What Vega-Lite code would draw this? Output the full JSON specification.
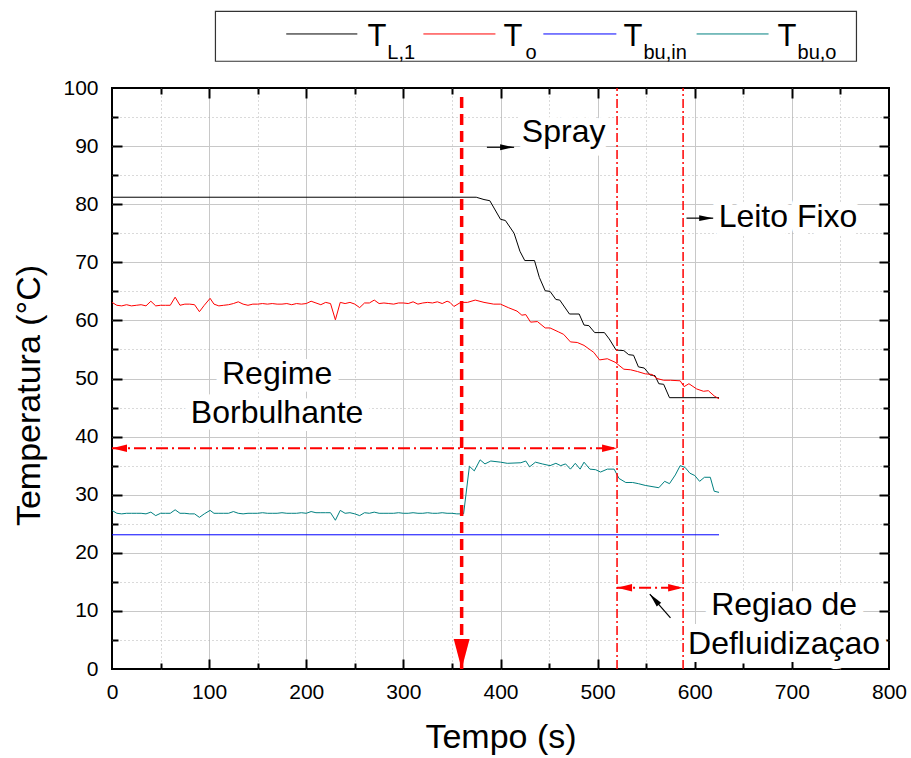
{
  "$schema": "https://vega.github.io/schema/vega-lite/v6.json",
  "width": 777,
  "height": 581,
  "autosize": {"type": "none"},
  "padding": {"left": 112, "top": 88, "right": 22, "bottom": 89},
  "background": "white",
  "config": {
    "font": "Liberation Sans",
    "view": {"stroke": "#000000", "strokeWidth": 2},
    "axis": {
      "domain": false,
      "labelColor": "#000000",
      "tickColor": "#000000",
      "tickWidth": 2,
      "labelFontSize": 21,
      "titleFontSize": 34,
      "titleFontWeight": "normal",
      "titleColor": "#000000",
      "gridColor": "#c8c8c8",
      "gridWidth": 1,
      "labelOverlap": false,
      "labelFlush": false
    }
  },
  "datasets": {
    "TL1": [
      {"t": 0, "v": 81.2}, {"t": 375, "v": 81.2}, {"t": 383, "v": 80.8}, {"t": 389, "v": 80.6},
      {"t": 400, "v": 77.4}, {"t": 405, "v": 77.2}, {"t": 414, "v": 75.0}, {"t": 420, "v": 71.9},
      {"t": 425, "v": 70.3}, {"t": 435, "v": 70.3}, {"t": 440, "v": 67.4}, {"t": 446, "v": 65.1},
      {"t": 451, "v": 65.0}, {"t": 457, "v": 63.6}, {"t": 461, "v": 63.5}, {"t": 471, "v": 61.1},
      {"t": 481, "v": 61.1}, {"t": 486, "v": 59.2}, {"t": 491, "v": 59.1}, {"t": 497, "v": 57.9},
      {"t": 507, "v": 57.9}, {"t": 512, "v": 56.8}, {"t": 519, "v": 54.9}, {"t": 527, "v": 54.8},
      {"t": 532, "v": 54.1}, {"t": 537, "v": 54.0}, {"t": 542, "v": 52.0}, {"t": 548, "v": 51.8},
      {"t": 554, "v": 50.6}, {"t": 559, "v": 50.5}, {"t": 563, "v": 49.1}, {"t": 568, "v": 49.0},
      {"t": 574, "v": 46.7}, {"t": 625, "v": 46.7}
    ],
    "To": [
      {"t": 0, "v": 63.1}, {"t": 5, "v": 62.6}, {"t": 10, "v": 62.5}, {"t": 15, "v": 62.7},
      {"t": 20, "v": 62.5}, {"t": 25, "v": 62.6}, {"t": 30, "v": 62.7}, {"t": 35, "v": 62.5},
      {"t": 40, "v": 63.3}, {"t": 45, "v": 62.5}, {"t": 50, "v": 62.6}, {"t": 55, "v": 62.6},
      {"t": 60, "v": 62.6}, {"t": 65, "v": 64.0}, {"t": 70, "v": 62.6}, {"t": 75, "v": 62.8},
      {"t": 80, "v": 62.8}, {"t": 85, "v": 62.7}, {"t": 90, "v": 61.5}, {"t": 95, "v": 62.6},
      {"t": 101, "v": 63.8}, {"t": 105, "v": 62.8}, {"t": 110, "v": 62.5}, {"t": 115, "v": 62.6},
      {"t": 120, "v": 62.7}, {"t": 125, "v": 62.9}, {"t": 130, "v": 63.2}, {"t": 135, "v": 62.8},
      {"t": 140, "v": 62.6}, {"t": 145, "v": 62.8}, {"t": 150, "v": 62.8}, {"t": 155, "v": 62.9},
      {"t": 160, "v": 62.8}, {"t": 165, "v": 62.9}, {"t": 170, "v": 62.8}, {"t": 175, "v": 62.8},
      {"t": 180, "v": 62.9}, {"t": 185, "v": 62.7}, {"t": 190, "v": 62.9}, {"t": 195, "v": 62.8},
      {"t": 200, "v": 62.9}, {"t": 205, "v": 63.3}, {"t": 210, "v": 63.0}, {"t": 215, "v": 62.7},
      {"t": 220, "v": 63.1}, {"t": 225, "v": 62.9}, {"t": 230, "v": 60.1}, {"t": 235, "v": 63.1},
      {"t": 240, "v": 62.9}, {"t": 245, "v": 63.1}, {"t": 250, "v": 62.8}, {"t": 255, "v": 62.2},
      {"t": 260, "v": 63.0}, {"t": 265, "v": 63.0}, {"t": 270, "v": 63.5}, {"t": 275, "v": 62.9},
      {"t": 280, "v": 63.0}, {"t": 285, "v": 62.9}, {"t": 290, "v": 62.8}, {"t": 295, "v": 63.0},
      {"t": 300, "v": 63.0}, {"t": 305, "v": 62.9}, {"t": 310, "v": 63.2}, {"t": 315, "v": 62.8},
      {"t": 320, "v": 63.0}, {"t": 325, "v": 63.1}, {"t": 330, "v": 63.0}, {"t": 335, "v": 63.2},
      {"t": 340, "v": 62.9}, {"t": 345, "v": 63.3}, {"t": 348, "v": 63.1}, {"t": 352, "v": 62.4},
      {"t": 359, "v": 63.1}, {"t": 366, "v": 63.1}, {"t": 374, "v": 63.5}, {"t": 383, "v": 63.1},
      {"t": 393, "v": 62.8}, {"t": 400, "v": 62.8}, {"t": 408, "v": 62.2}, {"t": 417, "v": 61.6},
      {"t": 422, "v": 60.9}, {"t": 426, "v": 61.0}, {"t": 431, "v": 59.7}, {"t": 438, "v": 59.8},
      {"t": 446, "v": 58.7}, {"t": 451, "v": 58.7}, {"t": 460, "v": 58.0}, {"t": 465, "v": 57.6},
      {"t": 472, "v": 56.3}, {"t": 479, "v": 56.2}, {"t": 486, "v": 55.7}, {"t": 491, "v": 55.1},
      {"t": 496, "v": 54.5}, {"t": 502, "v": 53.2}, {"t": 510, "v": 53.4}, {"t": 518, "v": 52.8},
      {"t": 527, "v": 51.6}, {"t": 534, "v": 51.5}, {"t": 541, "v": 51.2}, {"t": 549, "v": 50.8},
      {"t": 556, "v": 50.7}, {"t": 561, "v": 50.0}, {"t": 568, "v": 49.7}, {"t": 575, "v": 49.7},
      {"t": 585, "v": 49.6}, {"t": 589, "v": 48.6}, {"t": 594, "v": 49.1}, {"t": 602, "v": 48.2},
      {"t": 609, "v": 47.8}, {"t": 614, "v": 47.9}, {"t": 620, "v": 47.0}, {"t": 625, "v": 46.5}
    ],
    "Tbuin": [
      {"t": 0, "v": 23.1}, {"t": 625, "v": 23.1}
    ],
    "Tbuo": [
      {"t": 0, "v": 27.3}, {"t": 5, "v": 26.8}, {"t": 10, "v": 26.7}, {"t": 15, "v": 26.8},
      {"t": 20, "v": 26.8}, {"t": 25, "v": 26.8}, {"t": 30, "v": 26.8}, {"t": 35, "v": 26.7},
      {"t": 40, "v": 27.0}, {"t": 45, "v": 26.4}, {"t": 50, "v": 26.8}, {"t": 55, "v": 26.8},
      {"t": 60, "v": 26.8}, {"t": 65, "v": 27.4}, {"t": 70, "v": 26.8}, {"t": 75, "v": 26.8},
      {"t": 80, "v": 26.7}, {"t": 85, "v": 26.7}, {"t": 90, "v": 26.1}, {"t": 95, "v": 26.7},
      {"t": 101, "v": 27.3}, {"t": 105, "v": 26.8}, {"t": 110, "v": 26.8}, {"t": 115, "v": 26.8},
      {"t": 120, "v": 26.8}, {"t": 125, "v": 27.1}, {"t": 130, "v": 26.8}, {"t": 135, "v": 26.7},
      {"t": 140, "v": 26.8}, {"t": 145, "v": 26.8}, {"t": 150, "v": 26.8}, {"t": 155, "v": 26.9},
      {"t": 160, "v": 26.8}, {"t": 165, "v": 26.8}, {"t": 170, "v": 26.8}, {"t": 175, "v": 26.9},
      {"t": 180, "v": 26.8}, {"t": 185, "v": 26.8}, {"t": 190, "v": 26.8}, {"t": 195, "v": 26.9},
      {"t": 200, "v": 26.8}, {"t": 205, "v": 27.1}, {"t": 210, "v": 26.9}, {"t": 215, "v": 26.9},
      {"t": 220, "v": 26.9}, {"t": 225, "v": 26.9}, {"t": 230, "v": 25.6}, {"t": 235, "v": 27.3},
      {"t": 240, "v": 26.8}, {"t": 245, "v": 26.9}, {"t": 250, "v": 26.7}, {"t": 255, "v": 26.4},
      {"t": 260, "v": 26.9}, {"t": 265, "v": 26.8}, {"t": 270, "v": 27.0}, {"t": 275, "v": 26.8},
      {"t": 280, "v": 26.8}, {"t": 285, "v": 26.8}, {"t": 290, "v": 26.8}, {"t": 295, "v": 26.9},
      {"t": 300, "v": 26.8}, {"t": 305, "v": 26.8}, {"t": 310, "v": 26.9}, {"t": 315, "v": 26.8},
      {"t": 320, "v": 26.8}, {"t": 325, "v": 26.9}, {"t": 330, "v": 26.8}, {"t": 335, "v": 26.8},
      {"t": 340, "v": 26.9}, {"t": 345, "v": 26.8}, {"t": 350, "v": 26.8}, {"t": 355, "v": 26.7},
      {"t": 362, "v": 26.7}, {"t": 368, "v": 34.9}, {"t": 373, "v": 34.1}, {"t": 379, "v": 36.0},
      {"t": 384, "v": 35.3}, {"t": 390, "v": 35.8}, {"t": 400, "v": 35.6}, {"t": 407, "v": 35.4},
      {"t": 421, "v": 35.5}, {"t": 426, "v": 35.8}, {"t": 430, "v": 34.8}, {"t": 436, "v": 35.6},
      {"t": 443, "v": 35.3}, {"t": 451, "v": 35.0}, {"t": 457, "v": 35.4}, {"t": 462, "v": 35.0},
      {"t": 467, "v": 35.3}, {"t": 472, "v": 34.4}, {"t": 477, "v": 35.4}, {"t": 482, "v": 34.4},
      {"t": 486, "v": 35.6}, {"t": 492, "v": 34.4}, {"t": 498, "v": 34.3}, {"t": 503, "v": 33.9},
      {"t": 510, "v": 34.4}, {"t": 517, "v": 34.4}, {"t": 522, "v": 32.8}, {"t": 529, "v": 32.1},
      {"t": 536, "v": 32.1}, {"t": 542, "v": 31.9}, {"t": 549, "v": 31.6}, {"t": 556, "v": 31.4},
      {"t": 563, "v": 31.2}, {"t": 569, "v": 32.3}, {"t": 574, "v": 31.9}, {"t": 580, "v": 33.4},
      {"t": 585, "v": 35.0}, {"t": 590, "v": 34.7}, {"t": 595, "v": 33.7}, {"t": 600, "v": 33.3},
      {"t": 605, "v": 32.3}, {"t": 610, "v": 33.0}, {"t": 616, "v": 33.0}, {"t": 620, "v": 30.6},
      {"t": 625, "v": 30.4}
    ],
    "notes": [
      {"label": "Spray", "t": 465, "v": 90.7},
      {"label": "Leito Fixo", "t": 696, "v": 76.0},
      {"label": "Regime\nBorbulhante", "t": 170, "v": 49.1},
      {"label": "Regiao de\nDefluidizaçao", "t": 692, "v": 9.3}
    ],
    "phaseLines": [{"t": 520}, {"t": 588}],
    "sprayLine": [{"t": 360, "v": 0, "v2": 99}],
    "spans": [
      {"t": 0, "t2": 520, "v": 38},
      {"t": 520, "t2": 588, "v": 14}
    ],
    "redHeadsRight": [{"t": 520, "v": 38}, {"t": 588, "v": 14}],
    "redHeadsLeft": [{"t": 0, "v": 38}, {"t": 520, "v": 14}],
    "sprayHead": [{"t": 360, "v": 0}],
    "pointers": [
      {"t": 386, "v": 89.8, "t2": 414, "v2": 89.8},
      {"t": 591.5, "v": 77.6, "t2": 619, "v2": 77.6},
      {"t": 575, "v": 8.8, "t2": 553.7, "v2": 12.9}
    ],
    "blackHeadsRight": [{"t": 414, "v": 89.8}, {"t": 619, "v": 77.6}],
    "blackHeadUpLeft": [{"t": 553.7, "v": 12.9}],
    "legendBox": [{"t": 106.5, "t2": 766.5, "v": 113.2, "v2": 104.6}],
    "legend": [
      {"series": "TL1", "t": 179.4, "t2": 252.6, "tT": 263, "sub": "L,1", "tS": 283.5},
      {"series": "To", "t": 320.6, "t2": 394.8, "tT": 403, "sub": "o", "tS": 425.7},
      {"series": "Tbuin", "t": 444.1, "t2": 519.3, "tT": 526.6, "sub": "bu,in", "tS": 547.2},
      {"series": "Tbuo", "t": 601.9, "t2": 676, "tT": 685.2, "sub": "bu,o", "tS": 705.8}
    ]
  },
  "layer": [
    {
      "data": {"name": "notes"},
      "mark": {"type": "text", "fontSize": 32, "align": "center", "baseline": "alphabetic", "lineBreak": "\n", "lineHeight": 39.5, "fill": "#ffffff", "stroke": "#ffffff", "strokeWidth": 16, "strokeJoin": "round"},
      "encoding": {
        "x": {"field": "t", "type": "quantitative", "scale": {"domain": [0, 800]},
              "axis": {"orient": "bottom", "values": [0, 100, 200, 300, 400, 500, 600, 700, 800], "ticks": false, "grid": false, "labelPadding": 12, "title": "Tempo (s)", "titlePadding": 18, "format": "d"}},
        "y": {"field": "v", "type": "quantitative", "scale": {"domain": [0, 100]},
              "axis": {"orient": "left", "values": [0, 10, 20, 30, 40, 50, 60, 70, 80, 90, 100], "ticks": false, "grid": false, "labelPadding": 14, "title": "Temperatura (°C)", "titlePadding": 16, "titleY": 307, "format": "d"}},
        "text": {"field": "label"}
      }
    },
    {
      "data": {"name": "TL1"},
      "mark": {"type": "line", "color": "#000000", "strokeWidth": 1},
      "encoding": {
        "x": {"field": "t", "type": "quantitative", "scale": {"domain": [0, 800]},
              "axis": {"orient": "bottom", "values": [100, 200, 300, 400, 500, 600, 700], "tickSize": -10, "grid": true, "labels": false, "title": null}},
        "y": {"field": "v", "type": "quantitative", "scale": {"domain": [0, 100]},
              "axis": {"orient": "left", "values": [10, 20, 30, 40, 50, 60, 70, 80, 90], "tickSize": -10, "grid": true, "labels": false, "title": null}}
      }
    },
    {
      "data": {"name": "To"},
      "mark": {"type": "line", "color": "#ff0000", "strokeWidth": 1},
      "encoding": {
        "x": {"field": "t", "type": "quantitative", "scale": {"domain": [0, 800]},
              "axis": {"orient": "bottom", "values": [50, 150, 250, 350, 450, 550, 650, 750], "tickSize": -6, "grid": true, "gridDash": [1, 3], "gridColor": "#b4b4b4", "labels": false, "title": null}},
        "y": {"field": "v", "type": "quantitative", "scale": {"domain": [0, 100]},
              "axis": {"orient": "left", "values": [5, 15, 25, 35, 45, 55, 65, 75, 85, 95], "tickSize": -6, "grid": true, "gridDash": [1, 3], "gridColor": "#b4b4b4", "labels": false, "title": null}}
      }
    },
    {
      "data": {"name": "Tbuin"},
      "mark": {"type": "line", "color": "#0000ff", "strokeWidth": 1},
      "encoding": {
        "x": {"field": "t", "type": "quantitative", "scale": {"domain": [0, 800]},
              "axis": {"orient": "top", "values": [100, 200, 300, 400, 500, 600, 700], "tickSize": -10, "grid": false, "labels": false, "title": null}},
        "y": {"field": "v", "type": "quantitative", "scale": {"domain": [0, 100]},
              "axis": {"orient": "right", "values": [10, 20, 30, 40, 50, 60, 70, 80, 90], "tickSize": -10, "grid": false, "labels": false, "title": null}}
      }
    },
    {
      "data": {"name": "Tbuo"},
      "mark": {"type": "line", "color": "#008080", "strokeWidth": 1},
      "encoding": {
        "x": {"field": "t", "type": "quantitative", "scale": {"domain": [0, 800]},
              "axis": {"orient": "top", "values": [50, 150, 250, 350, 450, 550, 650, 750], "tickSize": -6, "grid": false, "labels": false, "title": null}},
        "y": {"field": "v", "type": "quantitative", "scale": {"domain": [0, 100]},
              "axis": {"orient": "right", "values": [5, 15, 25, 35, 45, 55, 65, 75, 85, 95], "tickSize": -6, "grid": false, "labels": false, "title": null}}
      }
    },
    {
      "data": {"name": "phaseLines"},
      "mark": {"type": "rule", "color": "#ff0000", "strokeWidth": 1.5, "strokeDash": [9, 3, 2, 3]},
      "encoding": {
        "x": {"field": "t", "type": "quantitative", "scale": {"domain": [0, 800]}, "axis": null},
        "y": {"datum": 0, "type": "quantitative", "scale": {"domain": [0, 100]}, "axis": null},
        "y2": {"datum": 100}
      }
    },
    {
      "data": {"name": "sprayLine"},
      "mark": {"type": "rule", "color": "#ff0000", "strokeWidth": 3.5, "strokeDash": [11, 6]},
      "encoding": {
        "x": {"field": "t", "type": "quantitative", "scale": {"domain": [0, 800]}, "axis": null},
        "y": {"field": "v", "type": "quantitative", "scale": {"domain": [0, 100]}, "axis": null},
        "y2": {"field": "v2"}
      }
    },
    {
      "data": {"name": "spans"},
      "mark": {"type": "rule", "color": "#ff0000", "strokeWidth": 2, "strokeDash": [12, 4, 2, 4]},
      "encoding": {
        "x": {"field": "t", "type": "quantitative", "scale": {"domain": [0, 800]}, "axis": null},
        "x2": {"field": "t2"},
        "y": {"field": "v", "type": "quantitative", "scale": {"domain": [0, 100]}, "axis": null}
      }
    },
    {
      "data": {"name": "redHeadsRight"},
      "mark": {"type": "point", "shape": "M0,0 L-2,-0.5 L-2,0.5 Z", "size": 225, "filled": true, "color": "#ff0000", "opacity": 1, "angle": 0},
      "encoding": {
        "x": {"field": "t", "type": "quantitative", "scale": {"domain": [0, 800]}, "axis": null},
        "y": {"field": "v", "type": "quantitative", "scale": {"domain": [0, 100]}, "axis": null}
      }
    },
    {
      "data": {"name": "redHeadsLeft"},
      "mark": {"type": "point", "shape": "M0,0 L-2,-0.5 L-2,0.5 Z", "size": 225, "filled": true, "color": "#ff0000", "opacity": 1, "angle": 180},
      "encoding": {
        "x": {"field": "t", "type": "quantitative", "scale": {"domain": [0, 800]}, "axis": null},
        "y": {"field": "v", "type": "quantitative", "scale": {"domain": [0, 100]}, "axis": null}
      }
    },
    {
      "data": {"name": "sprayHead"},
      "mark": {"type": "point", "shape": "M0,0 L-0.53,-2 L0.53,-2 Z", "size": 900, "filled": true, "color": "#ff0000", "opacity": 1},
      "encoding": {
        "x": {"field": "t", "type": "quantitative", "scale": {"domain": [0, 800]}, "axis": null},
        "y": {"field": "v", "type": "quantitative", "scale": {"domain": [0, 100]}, "axis": null}
      }
    },
    {
      "data": {"name": "pointers"},
      "mark": {"type": "rule", "color": "#000000", "strokeWidth": 1.2},
      "encoding": {
        "x": {"field": "t", "type": "quantitative", "scale": {"domain": [0, 800]}, "axis": null},
        "x2": {"field": "t2"},
        "y": {"field": "v", "type": "quantitative", "scale": {"domain": [0, 100]}, "axis": null},
        "y2": {"field": "v2"}
      }
    },
    {
      "data": {"name": "blackHeadsRight"},
      "mark": {"type": "point", "shape": "M0,0 L-2,-0.42 L-2,0.42 Z", "size": 196, "filled": true, "color": "#000000", "opacity": 1, "angle": 0},
      "encoding": {
        "x": {"field": "t", "type": "quantitative", "scale": {"domain": [0, 800]}, "axis": null},
        "y": {"field": "v", "type": "quantitative", "scale": {"domain": [0, 100]}, "axis": null}
      }
    },
    {
      "data": {"name": "blackHeadUpLeft"},
      "mark": {"type": "point", "shape": "M0,0 L-2,-0.42 L-2,0.42 Z", "size": 196, "filled": true, "color": "#000000", "opacity": 1, "angle": 229},
      "encoding": {
        "x": {"field": "t", "type": "quantitative", "scale": {"domain": [0, 800]}, "axis": null},
        "y": {"field": "v", "type": "quantitative", "scale": {"domain": [0, 100]}, "axis": null}
      }
    },
    {
      "data": {"name": "notes"},
      "mark": {"type": "text", "fontSize": 32, "align": "center", "baseline": "alphabetic", "lineBreak": "\n", "lineHeight": 39.5, "color": "#000000"},
      "encoding": {
        "x": {"field": "t", "type": "quantitative", "scale": {"domain": [0, 800]}, "axis": null},
        "y": {"field": "v", "type": "quantitative", "scale": {"domain": [0, 100]}, "axis": null},
        "text": {"field": "label"}
      }
    },
    {
      "data": {"name": "legendBox"},
      "mark": {"type": "rect", "fill": "#ffffff", "stroke": "#333333", "strokeWidth": 1.2},
      "encoding": {
        "x": {"field": "t", "type": "quantitative", "scale": {"domain": [0, 800]}, "axis": null},
        "x2": {"field": "t2"},
        "y": {"field": "v", "type": "quantitative", "scale": {"domain": [0, 100]}, "axis": null},
        "y2": {"field": "v2"}
      }
    },
    {
      "data": {"name": "legend"},
      "mark": {"type": "rule", "strokeWidth": 1},
      "encoding": {
        "x": {"field": "t", "type": "quantitative", "scale": {"domain": [0, 800]}, "axis": null},
        "x2": {"field": "t2"},
        "y": {"datum": 109.3, "type": "quantitative", "scale": {"domain": [0, 100]}, "axis": null},
        "color": {"field": "series", "type": "nominal", "legend": null,
                  "scale": {"domain": ["TL1", "To", "Tbuin", "Tbuo"], "range": ["#000000", "#ff0000", "#0000ff", "#008080"]}}
      }
    },
    {
      "data": {"name": "legend"},
      "mark": {"type": "text", "fontSize": 31, "align": "left", "baseline": "alphabetic", "color": "#000000", "text": "T"},
      "encoding": {
        "x": {"field": "tT", "type": "quantitative", "scale": {"domain": [0, 800]}, "axis": null},
        "y": {"datum": 107.3, "type": "quantitative", "scale": {"domain": [0, 100]}, "axis": null}
      }
    },
    {
      "data": {"name": "legend"},
      "mark": {"type": "text", "fontSize": 20, "align": "left", "baseline": "alphabetic", "color": "#000000"},
      "encoding": {
        "x": {"field": "tS", "type": "quantitative", "scale": {"domain": [0, 800]}, "axis": null},
        "y": {"datum": 105.0, "type": "quantitative", "scale": {"domain": [0, 100]}, "axis": null},
        "text": {"field": "sub"}
      }
    }
  ],
  "resolve": {"axis": {"x": "independent", "y": "independent"}}
}
